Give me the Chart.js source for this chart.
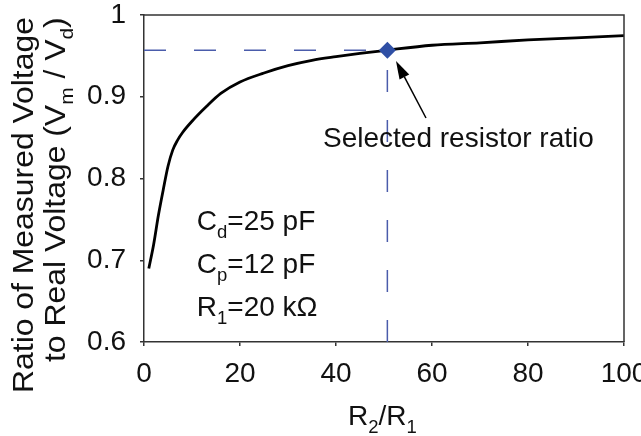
<!DOCTYPE html>
<html>
<head>
<meta charset="utf-8">
<script src="https://cdn.jsdelivr.net/npm/chart.js@4.4.1/dist/chart.umd.min.js"></script>
<style>
  html, body { margin: 0; padding: 0; background: #fff; }
  canvas { display: block; }
</style>
</head>
<body>
<canvas id="chart" width="641" height="436"></canvas>
<script>
// Resistor ratio R2/R1 and the resulting measured/real voltage ratio
const ratioR2R1 = [1, 2, 3, 4, 5, 6, 7, 8, 10, 13, 16, 20, 25, 30, 35, 40, 45, 50, 60, 70, 80, 90, 100];
const voltageRatio = [0.690, 0.719, 0.755, 0.786, 0.815, 0.835, 0.847, 0.856, 0.870, 0.888, 0.904, 0.918,
                      0.929, 0.938, 0.9445, 0.949, 0.953, 0.9565, 0.963, 0.966, 0.9695, 0.972, 0.9747];

// Chosen operating point
const selectedRatio = [50.7];
const selectedValue = [0.957];

// Axis ticks
const xTickValues = [0, 20, 40, 60, 80, 100];
const xTickLabels = ['0', '20', '40', '60', '80', '100'];
const yTickValues = [0.6, 0.7, 0.8, 0.9, 1];
const yTickLabels = ['0.6', '0.7', '0.8', '0.9', '1'];

const FONT = '"Liberation Sans", Arial, Helvetica, sans-serif';
const TEXT_SIZE = 28;
const SUB_SIZE = 18.5;
const SUB_DROP = 8;
const GUIDE_COLOR = '#4a5cab';
const MARKER_COLOR = '#2f4fa5';
const AXIS_COLOR = '#333333';
const TEXT_COLOR = '#111111';

// Draws a run of text where some parts are subscripts
function drawRich(ctx, parts, x, y, size = TEXT_SIZE, subSize = SUB_SIZE) {
  let cx = x;
  for (const [txt, sub] of parts) {
    ctx.font = (sub ? subSize : size) + 'px ' + FONT;
    ctx.fillText(txt, cx, y + (sub ? SUB_DROP : 0));
    cx += ctx.measureText(txt).width;
  }
}

const decorations = {
  id: 'decorations',
  afterDraw(chart) {
    const { ctx, chartArea: a, scales: { x, y } } = chart;
    ctx.save();

    // box: top and right edges
    ctx.strokeStyle = AXIS_COLOR;
    ctx.lineWidth = 1.5;
    ctx.beginPath();
    ctx.moveTo(a.left, a.top);
    ctx.lineTo(a.right, a.top);
    ctx.lineTo(a.right, a.bottom);
    ctx.stroke();

    ctx.fillStyle = TEXT_COLOR;
    ctx.textBaseline = 'alphabetic';
    ctx.textAlign = 'left';

    // circuit parameters
    const params = [
      [['C', 0], ['d', 1], ['=25 pF', 0]],
      [['C', 0], ['p', 1], ['=12 pF', 0]],
      [['R', 0], ['1', 1], ['=20 k\u03A9', 0]]
    ];
    const paramY = [0.737, 0.6844, 0.6318];
    params.forEach((p, i) => drawRich(ctx, p, x.getPixelForValue(11), y.getPixelForValue(paramY[i])));

    // callout for the selected point
    drawRich(ctx, [['Selected resistor ratio', 0]], x.getPixelForValue(37.3), y.getPixelForValue(0.8385));
    const x0 = x.getPixelForValue(58.75), y0 = y.getPixelForValue(0.874);
    const x1 = x.getPixelForValue(52.5), y1 = y.getPixelForValue(0.9437);
    const ang = Math.atan2(y1 - y0, x1 - x0);
    const headLen = 18, headHalf = 5.5;
    const bx = x1 - headLen * Math.cos(ang), by = y1 - headLen * Math.sin(ang);
    ctx.strokeStyle = '#000';
    ctx.lineWidth = 1.5;
    ctx.beginPath();
    ctx.moveTo(x0, y0);
    ctx.lineTo(bx, by);
    ctx.stroke();
    ctx.fillStyle = '#000';
    ctx.beginPath();
    ctx.moveTo(x1, y1);
    ctx.lineTo(bx + headHalf * Math.sin(ang), by - headHalf * Math.cos(ang));
    ctx.lineTo(bx - headHalf * Math.sin(ang), by + headHalf * Math.cos(ang));
    ctx.closePath();
    ctx.fill();

    ctx.fillStyle = TEXT_COLOR;
    // x axis title
    drawRich(ctx, [['R', 0], ['2', 1], ['/R', 0], ['1', 1]], 348, 425);

    // y axis title, two rotated lines
    const yTitle = [
      { parts: [['Ratio of Measured Voltage', 0]], bx: 33, start: 393 },
      { parts: [['to Real Voltage (V', 0], ['m', 1], [' / V', 0], ['d', 1], [')', 0]], bx: 65, start: 362 }
    ];
    for (const line of yTitle) {
      ctx.save();
      ctx.translate(line.bx, line.start);
      ctx.rotate(-Math.PI / 2);
      ctx.scale(1.1, 1);
      drawRich(ctx, line.parts, 0, 0, 29, 19);
      ctx.restore();
    }

    ctx.restore();
  }
};

const axisCommon = {
  type: 'linear',
  grid: { display: true, drawOnChartArea: false, drawTicks: true, tickLength: 4, color: AXIS_COLOR, lineWidth: 1.5 },
  border: { display: true, color: AXIS_COLOR, width: 1.5 },
  title: { display: false }
};

new Chart(document.getElementById('chart'), {
  type: 'scatter',
  data: {
    datasets: [
      {
        label: 'Selected',
        data: selectedRatio.map((r, i) => ({ x: r, y: selectedValue[i] })),
        pointStyle: 'rectRot',
        pointRadius: 8.5,
        backgroundColor: MARKER_COLOR,
        borderColor: MARKER_COLOR,
        borderWidth: 0,
        showLine: false,
        order: 0
      },
      {
        label: 'Vm/Vd',
        data: ratioR2R1.map((r, i) => ({ x: r, y: voltageRatio[i] })),
        showLine: true,
        borderColor: '#000',
        borderWidth: 2.8,
        pointRadius: 0,
        cubicInterpolationMode: 'monotone',
        order: 1
      },
      {
        label: 'guide-h',
        data: [{ x: 0, y: selectedValue[0] }, { x: selectedRatio[0], y: selectedValue[0] }],
        showLine: true,
        borderColor: GUIDE_COLOR,
        borderWidth: 1.5,
        borderDash: [22, 28],
        pointRadius: 0,
        order: 2
      },
      {
        label: 'guide-v',
        data: [{ x: selectedRatio[0], y: 0.6 }, { x: selectedRatio[0], y: selectedValue[0] }],
        showLine: true,
        borderColor: GUIDE_COLOR,
        borderWidth: 1.5,
        borderDash: [22, 28],
        pointRadius: 0,
        order: 3
      }
    ]
  },
  options: {
    responsive: false,
    animation: false,
    devicePixelRatio: 1,
    layout: { padding: { top: 15, right: 17, left: 0, bottom: 0 } },
    plugins: { legend: { display: false }, tooltip: { enabled: false } },
    scales: {
      x: {
        ...axisCommon,
        min: 0, max: 100,
        afterBuildTicks(s) { s.ticks = xTickValues.map(v => ({ value: v })); },
        afterFit(s) { s.height = 94; s.paddingLeft = 0; s.paddingRight = 0; },
        ticks: {
          color: TEXT_COLOR, padding: 11, maxRotation: 0, autoSkip: false,
          font: { family: FONT, size: 28 },
          callback: v => xTickLabels[xTickValues.indexOf(v)]
        }
      },
      y: {
        ...axisCommon,
        min: 0.6, max: 1,
        afterBuildTicks(s) { s.ticks = yTickValues.map(v => ({ value: v })); },
        afterFit(s) { s.width = 144; s.paddingTop = 0; s.paddingBottom = 0; },
        ticks: {
          color: TEXT_COLOR, padding: 14, autoSkip: false,
          font: { family: FONT, size: 28 },
          callback: v => yTickLabels[yTickValues.findIndex(t => Math.abs(t - v) < 1e-9)]
        }
      }
    }
  },
  plugins: [decorations]
});
</script>
</body>
</html>
